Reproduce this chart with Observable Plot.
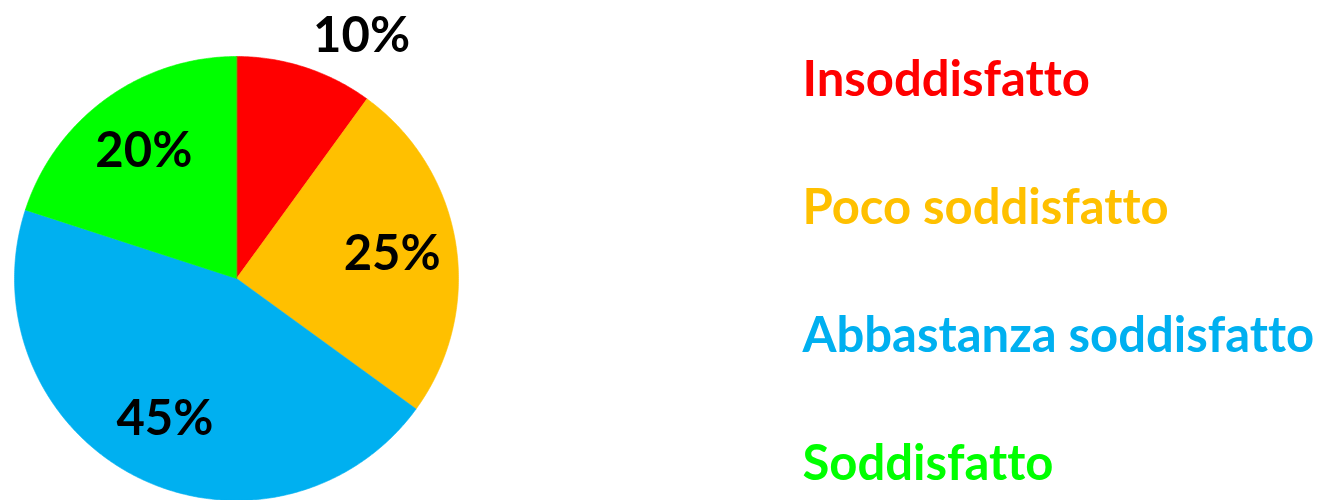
<!DOCTYPE html>
<html><head><meta charset="utf-8">
<script src="https://cdn.jsdelivr.net/npm/d3@7"></script>
<script src="https://cdn.jsdelivr.net/npm/@observablehq/plot@0.6"></script>
<style>body{margin:0;background:#fff} svg text{font-variant-ligatures:none;font-feature-settings:"liga" 0,"clig" 0}</style>
</head><body><div id="chart"></div>
<script>
const categories = ["Insoddisfatto", "Poco soddisfatto", "Abbastanza soddisfatto", "Soddisfatto"];
const values = [10, 25, 45, 20];
const labels = ["10%", "25%", "45%", "20%"];
const colors = ["#FF0000", "#FFC000", "#00B0F0", "#00FF00"];

const W = 1322, H = 500, cx = 236, cy = 278, R = 222;
const FONT = 49;

const arcs = d3.pie().sort(null).value(d => d)(values);
const slicePts = [];
arcs.forEach((a, i) => {
  slicePts.push({cat: categories[i], x: cx, y: cy});
  const n = Math.max(2, Math.ceil((a.endAngle - a.startAngle) / (Math.PI / 360)));
  for (let k = 0; k <= n; k++) {
    const t = a.startAngle + (a.endAngle - a.startAngle) * k / n;
    slicePts.push({cat: categories[i], x: cx + R * Math.sin(t), y: cy - R * Math.cos(t)});
  }
});

const labelData = arcs.map((a, i) => {
  const m = (a.startAngle + a.endAngle) / 2;
  const outside = values[i] < 15;
  const r = outside ? R : R * 0.71;
  return {label: labels[i], outside, x: cx + r * Math.sin(m), y: cy - r * Math.cos(m)};
});

const legendData = categories.map((c, i) => ({cat: c, x: 802, y: 95 + 128.3 * i}));

const chart = Plot.plot({
  width: W, height: H, margin: 0,
  x: {domain: [0, W], range: [0, W], axis: null},
  y: {domain: [0, H], range: [0, H], axis: null},
  color: {domain: categories, range: colors},
  style: {fontFamily: "Lato, 'Open Sans', sans-serif", background: "#fff"},
  marks: [
    Plot.line(slicePts, {x: "x", y: "y", z: "cat", fill: "cat", stroke: "cat", strokeWidth: 0.6, curve: "linear-closed"}),
    Plot.text(labelData.filter(d => !d.outside), {x: "x", y: "y", text: "label", fill: "#000", fontSize: FONT, fontWeight: "bold", textAnchor: "middle", lineAnchor: "middle"}),
    Plot.text(labelData.filter(d => d.outside), {x: "x", y: "y", text: "label", fill: "#000", fontSize: FONT, fontWeight: "bold", textAnchor: "start", lineAnchor: "bottom", dx: 8, dy: -15}),
    Plot.text(legendData, {x: "x", y: "y", text: "cat", fill: "cat", fontSize: FONT, fontWeight: "bold", textAnchor: "start", lineAnchor: "bottom"})
  ]
});
document.getElementById("chart").appendChild(chart);
</script>
</body></html>
